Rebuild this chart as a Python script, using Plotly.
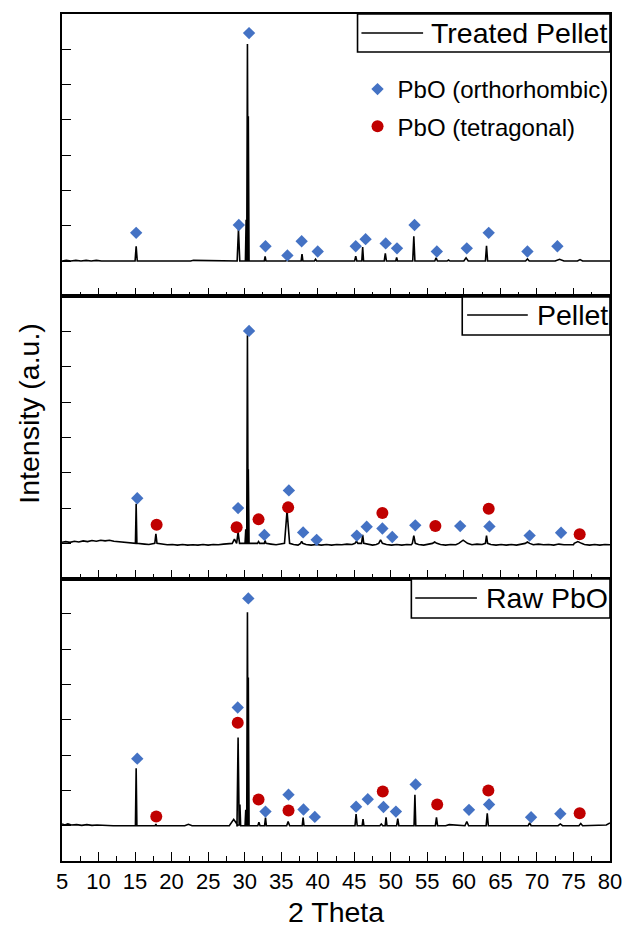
import plotly.graph_objects as go
from plotly.subplots import make_subplots

# ---------------- diffraction data (2θ in degrees, intensity in a.u.) ----------------
# Treated pellet: peak position, peak height, half base width
treated_pos = [15.15, 29.15, 30.2, 30.38, 30.5, 32.8, 35.8, 37.85, 39.7, 45.2, 46.15, 49.25,
               50.8, 53.15, 56.2, 57.9, 60.3, 63.1, 68.7, 73.1, 75.9]
treated_h = [0.42, 0.9, 1.17, 6.15, 4.1, 0.13, 0.04, 0.2, 0.05, 0.14, 0.4, 0.22,
             0.1, 0.7, 0.09, 0.03, 0.09, 0.43, 0.06, 0.05, 0.04]
treated_w = [0.15, 0.18, 0.1, 0.1, 0.1, 0.12, 0.15, 0.12, 0.15, 0.15, 0.12, 0.15,
             0.12, 0.15, 0.18, 0.2, 0.3, 0.15, 0.25, 0.6, 0.35]
treated_bg_x = [5.0, 5.6, 6.2, 6.9, 7.6, 8.3, 9.0, 9.7, 10.4, 11.2, 12.0, 13.0, 22.6, 23.0, 80.0]
treated_bg_y = [0.0, 0.02, 0.0, 0.02, 0.0, 0.02, 0.0, 0.02, 0.0, 0.01, 0.0, 0.0, 0.0, 0.02, 0.0]

# Pellet
pellet_pos = [15.15, 17.85, 28.6, 29.1, 30.15, 30.38, 30.5, 31.9, 32.8, 35.8, 37.8, 45.3,
              46.15, 48.6, 53.15, 56.0, 59.9, 63.1, 68.7, 75.6]
pellet_h = [1.12, 0.27, 0.12, 0.32, 0.4, 5.9, 2.1, 0.05, 0.08, 0.92, 0.06, 0.06,
            0.24, 0.1, 0.22, 0.04, 0.09, 0.22, 0.04, 0.05]
pellet_w = [0.1, 0.15, 0.3, 0.2, 0.1, 0.1, 0.1, 0.15, 0.12, 0.35, 0.15, 0.2,
            0.15, 0.25, 0.2, 0.3, 0.6, 0.15, 0.3, 0.5]
pellet_bg_x = [5.0, 5.5, 6.1, 6.7, 7.3, 7.9, 8.5, 9.1, 9.7, 10.3, 10.9, 11.5, 12.1, 12.7, 13.3,
               13.9, 14.5, 16.3, 16.9, 18.7, 19.4, 20.1, 20.8, 21.5, 22.2, 22.9, 23.6, 24.3,
               25.0, 25.7, 26.4, 27.1, 27.8, 33.6, 34.3, 34.9, 36.7, 37.3, 38.4, 39.1, 39.8,
               40.5, 41.2, 41.9, 42.6, 43.3, 44.0, 44.7, 46.9, 47.5, 48.0, 49.4, 50.1, 50.8,
               51.5, 52.2, 52.8, 53.8, 54.5, 55.2, 56.8, 57.5, 58.2, 58.9, 61.1, 61.8, 62.5,
               63.7, 64.4, 65.1, 65.8, 66.5, 67.2, 67.9, 69.5, 70.2, 70.9, 71.6, 72.3, 73.0,
               73.7, 74.4, 75.0, 76.5, 77.2, 77.9, 78.6, 79.3, 80.0]
pellet_bg_y = [0.03, 0.05, 0.03, 0.06, 0.04, 0.07, 0.05, 0.08, 0.06, 0.09, 0.07, 0.09, 0.06, 0.05,
               0.03, 0.04, 0.01, -0.02, -0.03, -0.02, -0.04, -0.03, -0.05, -0.03, -0.05, -0.04,
               -0.05, -0.03, -0.05, -0.03, -0.04, -0.02, 0.0, -0.02, -0.04, -0.02, -0.03, -0.05,
               -0.03, -0.05, -0.03, -0.05, -0.03, -0.05, -0.03, -0.04, -0.02, -0.03, -0.03,
               -0.05, -0.03, -0.03, -0.05, -0.03, -0.05, -0.03, -0.04, -0.03, -0.05, -0.03,
               -0.03, -0.05, -0.03, -0.04, -0.04, -0.02, -0.03, -0.03, -0.05, -0.03, -0.05,
               -0.03, -0.05, -0.03, -0.04, -0.02, -0.04, -0.03, -0.05, -0.02, -0.04, -0.03,
               -0.04, -0.03, -0.05, -0.03, -0.05, -0.03, -0.04]

# Raw PbO
raw_pos = [15.15, 17.85, 28.5, 29.1, 29.35, 30.15, 30.38, 30.5, 31.95, 32.85, 35.95, 38.0,
           45.25, 46.2, 48.7, 49.35, 50.95, 53.3, 56.25, 60.4, 63.2, 69.0, 73.2, 76.0]
raw_h = [1.63, 0.05, 0.18, 2.5, 0.6, 0.45, 6.05, 4.2, 0.1, 0.23, 0.12, 0.23,
         0.33, 0.19, 0.05, 0.24, 0.2, 0.88, 0.24, 0.12, 0.35, 0.08, 0.05, 0.06]
raw_w = [0.1, 0.1, 0.6, 0.15, 0.1, 0.1, 0.1, 0.1, 0.15, 0.12, 0.2, 0.12,
         0.15, 0.12, 0.2, 0.12, 0.15, 0.12, 0.15, 0.25, 0.15, 0.2, 0.3, 0.25]
raw_bg_x = [5.0, 5.4, 5.8, 6.3, 7.0, 7.7, 8.4, 9.1, 9.8, 10.5, 11.2, 12.0, 21.8, 22.3, 22.8,
            24.0, 25.0, 39.0, 41.0, 43.0, 57.5, 58.0, 66.0, 71.0, 78.0, 79.5, 80.0]
raw_bg_y = [0.05, 0.02, 0.05, 0.02, 0.03, 0.01, 0.03, 0.01, 0.02, 0.01, 0.02, 0.0, 0.0, 0.04,
            0.0, -0.01, 0.0, 0.0, 0.0, 0.0, 0.0, 0.03, 0.0, 0.0, 0.0, 0.02, 0.08]

# Phase markers: PbO orthorhombic (diamonds) and PbO tetragonal (circles)
treated_ortho_x = [15.15, 29.2, 30.6, 32.85, 35.85, 37.8, 40.0, 45.2, 46.55, 49.3, 50.85, 53.25,
                   56.3, 60.4, 63.4, 68.7, 72.8]
treated_ortho_y = [0.8, 1.02, 6.46, 0.42, 0.16, 0.56, 0.27, 0.42, 0.62, 0.5, 0.36, 1.02,
                   0.27, 0.36, 0.8, 0.27, 0.42]

pellet_ortho_x = [15.3, 29.1, 30.6, 32.7, 36.05, 38.0, 39.85, 45.35, 46.7, 48.85, 50.2, 53.35,
                  59.5, 63.5, 69.0, 73.3]
pellet_ortho_y = [1.28, 1.0, 6.02, 0.24, 1.5, 0.31, 0.1, 0.22, 0.47, 0.42, 0.18, 0.51,
                  0.49, 0.48, 0.22, 0.3]
pellet_tetra_x = [17.95, 28.9, 31.9, 35.95, 48.85, 56.1, 63.4, 75.85]
pellet_tetra_y = [0.53, 0.46, 0.68, 1.02, 0.86, 0.49, 0.98, 0.26]

raw_ortho_x = [15.3, 29.05, 30.5, 32.85, 36.0, 38.05, 39.6, 45.25, 46.85, 49.0, 50.7, 53.4,
               60.7, 63.45, 69.2, 73.2]
raw_ortho_y = [1.9, 3.35, 6.44, 0.4, 0.88, 0.46, 0.25, 0.54, 0.75, 0.53, 0.4, 1.17,
               0.45, 0.6, 0.24, 0.34]
raw_tetra_x = [17.9, 29.05, 31.9, 36.0, 48.9, 56.35, 63.35, 75.85]
raw_tetra_y = [0.26, 2.92, 0.74, 0.43, 0.97, 0.6, 1.0, 0.35]

sample_names = ["Treated Pellet", "Pellet", "Raw PbO"]

# ---------------- page geometry ----------------
W, H = 633, 928
ML, MR, MT, MB = 62, 11, 14, 67
PW, PH = W - ML - MR, H - MT - MB

BLUE = "#4472C4"
RED = "#C00000"
FONT = "Liberation Sans"


def px_x(px):
    return (px - ML) / PW


def px_y(py):
    return (H - MB - py) / PH


def pattern(pos, h, w, bg_x, bg_y):
    """Polyline through background points and triangular peak vertices."""
    windows = [(p - hw, p + hw) for p, hw in zip(pos, w)]
    bg = [(x, y) for x, y in zip(bg_x, bg_y)
          if not any(a <= x <= b for a, b in windows)]
    xs, ys = [], []
    peaks = sorted(zip(pos, h, w))
    bi = 0
    for p, ph, hw in peaks:
        while bi < len(bg) and bg[bi][0] < p - hw:
            xs.append(bg[bi][0]); ys.append(bg[bi][1]); bi += 1
        xs += [p - hw, p, p + hw]
        ys += [0.0, ph, 0.0]
    while bi < len(bg):
        xs.append(bg[bi][0]); ys.append(bg[bi][1]); bi += 1
    return xs, ys


fig = make_subplots(rows=3, cols=1, shared_xaxes=True, vertical_spacing=0)

panels = [
    (treated_pos, treated_h, treated_w, treated_bg_x, treated_bg_y,
     treated_ortho_x, treated_ortho_y, [], []),
    (pellet_pos, pellet_h, pellet_w, pellet_bg_x, pellet_bg_y,
     pellet_ortho_x, pellet_ortho_y, pellet_tetra_x, pellet_tetra_y),
    (raw_pos, raw_h, raw_w, raw_bg_x, raw_bg_y,
     raw_ortho_x, raw_ortho_y, raw_tetra_x, raw_tetra_y),
]

for i, (pos, h, w, bx, by, ox, oy, tx, ty) in enumerate(panels, start=1):
    xs, ys = pattern(pos, h, w, bx, by)
    fig.add_trace(go.Scatter(x=xs, y=ys, mode="lines", name=sample_names[i - 1],
                             line=dict(color="black", width=1.6), showlegend=False),
                  row=i, col=1)
    fig.add_trace(go.Scatter(x=ox, y=oy, mode="markers", name="PbO (orthorhombic)",
                             marker=dict(symbol="diamond", size=9.5, color=BLUE),
                             legendgroup="ortho", legendrank=1, showlegend=(i == 1)),
                  row=i, col=1)
    if tx:
        fig.add_trace(go.Scatter(x=tx, y=ty, mode="markers", name="PbO (tetragonal)",
                                 marker=dict(symbol="circle", size=12, color=RED),
                                 legendgroup="tetra", legendrank=2, showlegend=(i == 2)),
                      row=i, col=1)

for i in range(1, 4):
    fig.update_xaxes(row=i, col=1, range=[5, 80], tick0=5, dtick=5, ticks="inside",
                     ticklen=9, tickwidth=1.3, tickcolor="black",
                     minor=dict(tick0=5, dtick=2.5, ticks="inside", ticklen=5,
                                tickwidth=1.3, tickcolor="black", showgrid=False),
                     showline=True, linecolor="black", linewidth=1.6, mirror=True,
                     showgrid=False, zeroline=False, showticklabels=(i == 3),
                     ticklabelstandoff=0,
                     tickfont=dict(family=FONT, size=22, color="black"))
    fig.update_yaxes(row=i, col=1, range=[-1, 7], tick0=0, dtick=1, ticks="inside",
                     ticklen=9, tickwidth=1.3, tickcolor="black", showticklabels=False,
                     showline=True, linecolor="black", linewidth=1.6, mirror=True,
                     showgrid=False, zeroline=False)

# Sample legend boxes (box, line sample, label) per panel
sample_boxes = [
    # x0, y0, y1, line x0, line x1, line y, text x
    (364, 14, 52, 368, 431, 33, 437),
    (471, 297, 335, 476, 538, 315, 545),
    (419, 579, 618, 423, 486, 598, 493),
]
shapes, annotations = [], []
for (x0, y0, y1, lx0, lx1, ly, tx0), name in zip(sample_boxes, sample_names):
    shapes.append(dict(type="rect", xref="paper", yref="paper",
                       x0=px_x(x0), x1=px_x(W - MR), y0=px_y(y1), y1=px_y(y0),
                       line=dict(color="black", width=1.6), fillcolor="white", layer="above"))
    shapes.append(dict(type="line", xref="paper", yref="paper",
                       x0=px_x(lx0), x1=px_x(lx1), y0=px_y(ly), y1=px_y(ly),
                       line=dict(color="black", width=1.6), layer="above"))
    annotations.append(dict(text=name, xref="paper", yref="paper", x=px_x(tx0), y=px_y(ly),
                            xanchor="left", yanchor="middle", showarrow=False,
                            font=dict(family=FONT, size=28.5, color="black")))

annotations.append(dict(text="Intensity (a.u.)", xref="paper", yref="paper",
                        x=px_x(28), y=px_y(413), xanchor="center", yanchor="middle",
                        textangle=-90, showarrow=False,
                        font=dict(family=FONT, size=28.5, color="black")))
annotations.append(dict(text="2 Theta", xref="paper", yref="paper",
                        x=0.5, y=px_y(912), xanchor="center", yanchor="middle",
                        showarrow=False, font=dict(family=FONT, size=28.5, color="black")))

fig.update_layout(
    width=W, height=H,
    margin=dict(l=ML, r=MR, t=MT, b=MB),
    paper_bgcolor="white", plot_bgcolor="white",
    shapes=shapes, annotations=annotations,
    legend=dict(x=px_x(364), y=px_y(67), xanchor="left", yanchor="top",
                bgcolor="rgba(0,0,0,0)", borderwidth=0, tracegroupgap=3,
                font=dict(family=FONT, size=24, color="black")),
)

fig.write_html("out.html")
